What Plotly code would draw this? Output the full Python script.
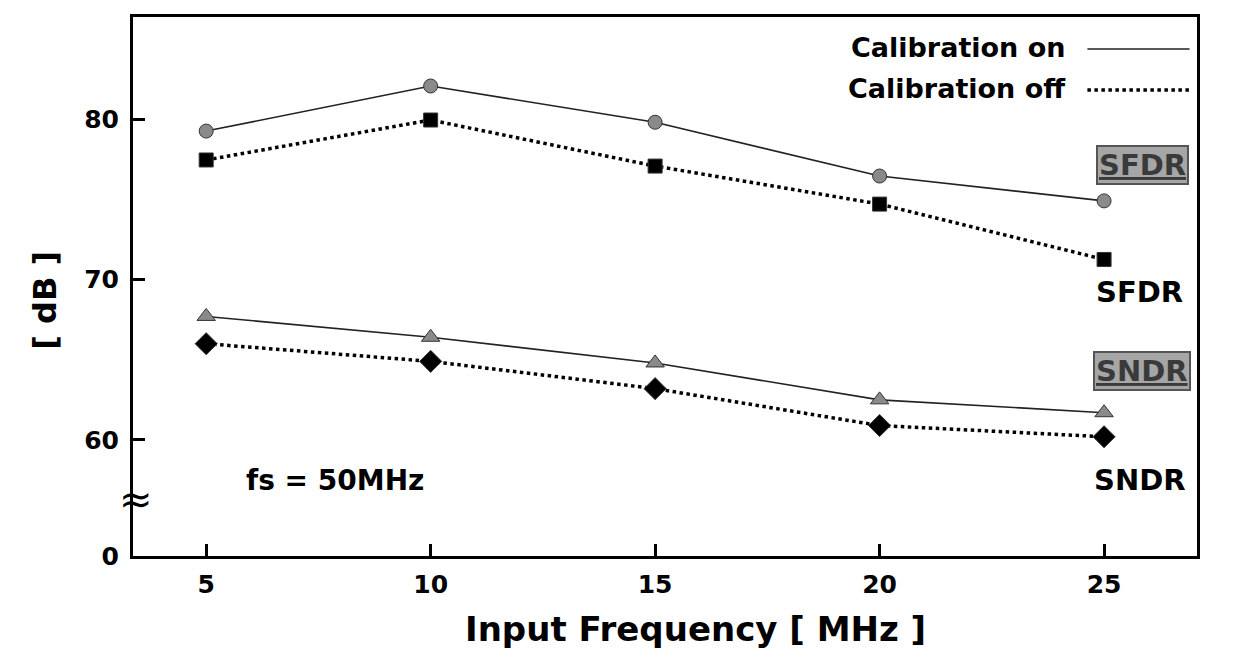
import plotly.graph_objects as go

freq = [5, 10, 15, 20, 25]
sfdr_on = [79.25, 82.06, 79.8, 76.45, 74.9]
sfdr_off = [77.45, 79.94, 77.07, 74.7, 71.25]
sndr_on = [67.7, 66.4, 64.8, 62.5, 61.7]
sndr_off = [66.0, 64.9, 63.2, 60.9, 60.2]

y_ticks = [52.77, 60, 70, 80]
y_ticktext = ["0", "60", "70", "80"]
x_ticks = [5, 10, 15, 20, 25]

FONT = "DejaVu Sans, sans-serif"

fig = go.Figure()

def add(y, dash, width, color, symbol, mcolor, msize, name):
    fig.add_trace(go.Scatter(
        x=freq, y=y, mode="lines+markers", name=name, showlegend=False,
        line=dict(color=color, width=width, dash=dash),
        marker=dict(symbol=symbol, size=msize, color=mcolor,
                    line=dict(color="#333333", width=1)),
    ))

add(sfdr_on, "solid", 1.6, "#222222", "circle", "#8a8a8a", 14, "SFDR on")
add(sfdr_off, "dot", 3.5, "#000000", "square", "#000000", 14, "SFDR off")
add(sndr_on, "solid", 1.6, "#222222", "triangle-up", "#8a8a8a", 16, "SNDR on")
add(sndr_off, "dot", 3.5, "#000000", "diamond", "#000000", 17, "SNDR off")

axis_common = dict(showline=True, linewidth=3, linecolor="black", mirror=True,
                   ticks="inside", ticklen=12, tickwidth=3, tickcolor="black",
                   showgrid=False, zeroline=False,
                   tickfont=dict(family=FONT, size=25, color="black", weight="bold"))

fig.update_xaxes(range=[3.37, 27.07], tickvals=x_ticks,
                 ticklabelstandoff=4, **axis_common)
fig.update_yaxes(range=[52.77, 86.36], tickvals=y_ticks, ticktext=y_ticktext,
                 ticklabelstandoff=6, **axis_common)

ann = []
def txt(x, y, s, size=28, xanchor="center", xref="x", yref="y", **kw):
    ann.append(dict(x=x, y=y, xref=xref, yref=yref, text=s, showarrow=False,
                    xanchor=xanchor, yanchor="middle",
                    font=dict(family=FONT, size=size, color="black", weight="bold"), **kw))

# axis titles
txt(0.529, -0.135, "Input Frequency [ MHz ]", size=34, xref="paper", yref="paper")
txt(-0.083, 0.475, "[ dB ]", size=32, xref="paper", yref="paper", textangle=-90)

# legend text
txt(0.879, 0.9425, "Calibration on", size=27, xanchor="right", xref="paper", yref="paper")
txt(0.879, 0.868, "Calibration off", size=27, xanchor="right", xref="paper", yref="paper")

txt(25.8, 69.25, "SFDR", size=29)
txt(25.8, 57.5, "SNDR", size=29)
txt(7.87, 57.5, "fs = 50MHz", size=28)

for yy, s in [(77.15, "SFDR"), (64.3, "SNDR")]:
    ann.append(dict(x=25.85, y=yy, xref="x", yref="y", text="<u>" + s + "</u>",
                    showarrow=False, yanchor="middle", bgcolor="#a6a6a6",
                    bordercolor="#555555", borderwidth=2, borderpad=1,
                    font=dict(family=FONT, size=29, color="#3a3a3a", weight="bold")))

# axis break symbol
ann.append(dict(x=0.003, y=56.3, xref="paper", yref="y", text="≈", showarrow=False,
                xanchor="center", yanchor="middle",
                font=dict(family="DejaVu Sans", size=40, color="black")))

fig.update_layout(
    width=1243, height=654,
    margin=dict(l=133, r=46, t=17, b=98),
    paper_bgcolor="white", plot_bgcolor="white",
    annotations=ann,
    shapes=[
        dict(type="line", xref="paper", yref="paper", x0=0.897, x1=0.993,
             y0=0.9406, y1=0.9406, line=dict(color="#222222", width=1.6)),
        dict(type="line", xref="paper", yref="paper", x0=0.897, x1=0.993,
             y0=0.8646, y1=0.8646, line=dict(color="black", width=3.5, dash="dot")),
    ],
)

fig.write_html("out.html")
